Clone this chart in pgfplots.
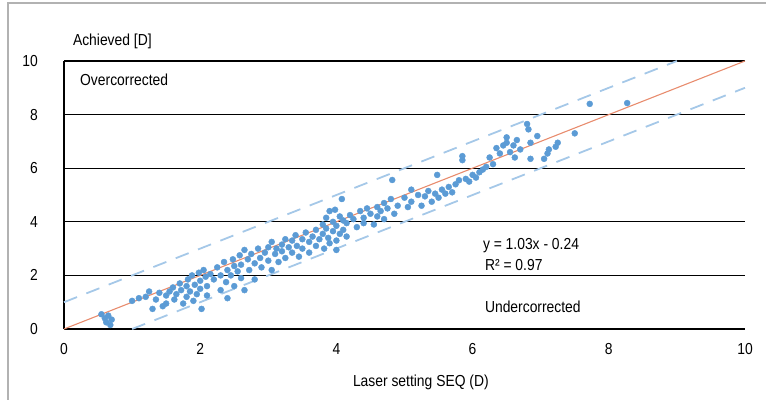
\documentclass[border=0pt]{standalone}
\usepackage{pgfplots}
\pgfplotsset{compat=1.18}
\usepackage{fontspec}
\setmainfont[FakeStretch=0.87]{Liberation Sans}
\definecolor{ptblue}{RGB}{91,155,213}
\definecolor{dashblue}{RGB}{165,200,232}
\definecolor{trend}{RGB}{232,140,110}
\newcommand{\chfont}{\fontsize{16}{19}\selectfont}
\begin{document}
\chfont
\begin{tikzpicture}
\useasboundingbox (0,0) rectangle (766bp,400bp);
\draw[gray!60, line width=1.5bp] (8bp,0) -- (8bp,397bp) -- (766bp,397bp);
\begin{axis}[
  at={(64bp,71bp)}, anchor=south west,
  scale only axis, width=681bp, height=268bp,
  xmin=0, xmax=10, ymin=0, ymax=10,
  axis x line=bottom, axis y line=left,
  axis line style={-, line width=2.6bp, black},
  xtick={0,2,...,10}, ytick={0,2,...,10},
  major tick length=0pt,
  ymajorgrids, grid style={black, line width=1.3bp},
  tick label style={font=\chfont},
  xticklabel style={anchor=north, inner sep=0pt, yshift=-14bp},
  yticklabel style={anchor=east, inner sep=0pt, xshift=-26bp},
  /pgf/number format/assume math mode=true,
  clip=false,
]
\addplot[dashblue, line width=1.8bp, dash pattern=on 14bp off 10bp] coordinates {(0,1) (9,10)};
\addplot[dashblue, line width=1.8bp, dash pattern=on 14bp off 10bp] coordinates {(1,0) (10,9)};
\addplot[only marks, mark=*, mark size=3bp, mark options={draw=ptblue, fill=ptblue}] table {
x y
0.55 0.55
0.6 0.4
0.62 0.25
0.65 0.5
0.68 0.15
0.7 0.35
1.0 1.05
1.1 1.15
1.2 1.2
1.25 1.4
1.3 0.75
1.35 1.1
1.4 1.35
1.45 0.85
1.5 1.25
1.5 0.95
1.55 1.4
1.6 1.55
1.62 1.1
1.65 1.3
1.7 1.7
1.72 1.45
1.75 0.95
1.8 1.6
1.8 1.2
1.82 1.85
1.85 1.4
1.88 2.0
1.9 1.05
1.92 1.65
1.95 1.3
1.98 2.1
2.0 1.8
2.0 1.5
2.02 0.75
2.05 2.2
2.08 1.95
2.1 1.6
2.1 1.25
2.15 2.05
2.2 1.85
2.25 2.3
2.3 2.0
2.3 1.45
2.35 2.5
2.38 1.75
2.4 2.2
2.4 1.15
2.45 2.0
2.48 2.6
2.5 2.35
2.5 1.6
2.55 2.15
2.58 2.75
2.6 2.4
2.6 1.9
2.65 2.95
2.65 1.45
2.7 2.6
2.72 2.2
2.75 2.8
2.8 2.45
2.8 1.85
2.85 3.0
2.88 2.65
2.9 2.3
2.95 2.85
3.0 3.05
3.0 2.55
3.05 2.2
3.05 3.25
3.1 2.8
3.12 3.0
3.15 2.5
3.2 3.15
3.2 2.9
3.25 3.35
3.25 2.65
3.3 3.05
3.35 2.85
3.35 3.3
3.4 3.5
3.42 3.1
3.45 2.7
3.5 3.35
3.5 3.0
3.55 3.6
3.6 3.25
3.6 2.85
3.65 3.45
3.7 3.7
3.7 3.1
3.75 3.35
3.8 3.9
3.8 3.55
3.82 3.0
3.85 4.15
3.85 3.75
3.88 3.4
3.9 4.4
3.9 3.2
3.95 4.0
3.95 3.65
3.98 4.45
4.0 3.85
4.0 3.3
4.0 2.95
4.05 4.2
4.05 3.55
4.08 4.85
4.1 4.05
4.1 3.7
4.15 3.45
4.15 3.95
4.2 4.25
4.25 4.1
4.3 3.8
4.35 4.4
4.4 4.15
4.4 3.95
4.45 4.5
4.5 4.3
4.55 3.9
4.6 4.55
4.6 4.2
4.65 4.4
4.7 4.7
4.7 4.1
4.75 4.5
4.8 4.85
4.82 5.56
4.85 4.3
4.9 4.6
5.0 4.9
5.05 4.55
5.1 5.2
5.1 4.75
5.2 5.0
5.25 4.6
5.3 4.95
5.35 5.15
5.4 4.75
5.45 5.05
5.48 5.75
5.5 4.9
5.55 5.2
5.6 5.05
5.65 5.3
5.7 5.1
5.75 5.4
5.8 5.55
5.85 6.3
5.85 6.45
5.9 5.6
5.95 5.5
6.0 5.75
6.05 5.65
6.1 5.85
6.15 5.95
6.2 6.05
6.25 6.4
6.3 6.15
6.35 6.75
6.4 6.55
6.45 6.85
6.5 7.15
6.5 6.95
6.55 6.6
6.6 6.85
6.62 6.4
6.65 7.05
6.7 6.7
6.8 7.65
6.82 7.45
6.85 6.95
6.85 6.35
6.95 7.2
7.05 6.35
7.1 6.55
7.12 6.7
7.22 6.8
7.25 6.95
7.5 7.3
7.72 8.4
8.27 8.43
};
\addplot[trend, line width=1.1bp] coordinates {(0,0) (10,10)};
\node[anchor=base west, inner sep=0pt] at (axis cs:0.13,10.56) {Achieved [D]};
\node[anchor=base west, inner sep=0pt] at (axis cs:0.235,9.1) {Overcorrected};
\node[anchor=base west, inner sep=0pt] at (axis cs:6.18,0.6) {Undercorrected};
\node[anchor=base west, inner sep=0pt] at (axis cs:6.15,2.95) {y = 1.03x - 0.24};
\node[anchor=base west, inner sep=0pt] at (axis cs:6.18,2.2) {R² = 0.97};
\node[anchor=base, inner sep=0pt] at (axis cs:5.24,-2.13) {Laser setting SEQ (D)};
\end{axis}
\end{tikzpicture}
\end{document}
